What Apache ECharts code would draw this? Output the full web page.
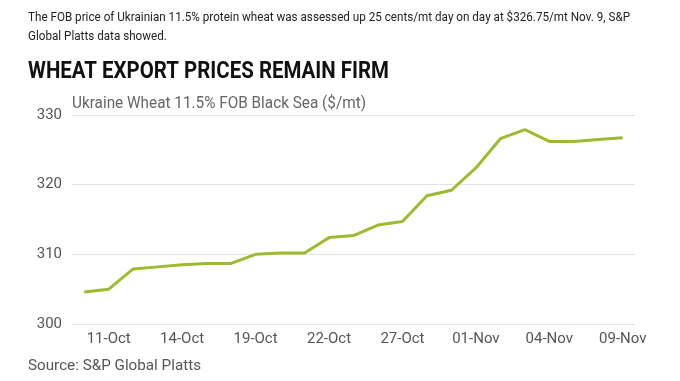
<!DOCTYPE html>
<html><head><meta charset="utf-8">
<script src="https://cdn.jsdelivr.net/npm/echarts@6/dist/echarts.min.js"></script>
<style>html,body{margin:0;padding:0;background:#fff}#c{width:680px;height:381px}</style>
</head><body><div id="c"></div>
<script>
const categories = ["10-Oct","11-Oct","12-Oct","13-Oct","14-Oct","17-Oct","18-Oct","19-Oct","20-Oct","21-Oct","22-Oct","25-Oct","26-Oct","27-Oct","28-Oct","31-Oct","01-Nov","02-Nov","03-Nov","04-Nov","07-Nov","08-Nov","09-Nov"];
const prices = [304.6,305.0,307.9,308.2,308.5,308.7,308.7,310.0,310.2,310.2,312.4,312.7,314.2,314.7,318.4,319.2,322.4,326.6,327.9,326.2,326.2,326.5,326.75];
const yTicks = [300,310,320,330];
const noteLine1 = 'The FOB price of Ukrainian 11.5% protein wheat was assessed up 25 cents/mt day on day at $326.75/mt Nov. 9, S&P';
const noteLine2 = 'Global Platts data showed.';
const headline = 'WHEAT EXPORT PRICES REMAIN FIRM';
const subtitle = 'Ukraine Wheat 11.5% FOB Black Sea ($/mt)';
const source = 'Source: S&P Global Platts';

const mctx = document.createElement('canvas').getContext('2d');
function fitText(text, font, x, y, targetW, fill){
  mctx.font = font;
  const w = mctx.measureText(text).width;
  return {type:'text', x:x, y:y, scaleX: targetW / w, silent:true,
    style:{text:text, font:font, fill:fill, textVerticalAlign:'middle', textAlign:'left'}};
}

const chart = echarts.init(document.getElementById('c'), null, {renderer:'canvas'});
const noteFont = '13px Roboto';
mctx.font = noteFont;
const noteScale = 602 / mctx.measureText(noteLine1).width;
chart.setOption({
  animation:false,
  backgroundColor:'#fff',
  graphic:[
    fitText(noteLine1, noteFont, 28, 18, 602, '#222'),
    {type:'text', x:28, y:37, scaleX:noteScale, silent:true,
     style:{text:noteLine2, font:noteFont, fill:'#222', textVerticalAlign:'middle'}},
    fitText(headline, 'bold 24px Roboto', 28, 72, 361, '#111'),
    fitText(subtitle, '16px Roboto', 72, 104, 294, '#666'),
    fitText(source, '15px Roboto', 28, 366, 173, '#555')
  ],
  grid:{left:72, right:45, top:115, bottom:57},
  xAxis:{type:'category', data:categories, boundaryGap:true,
    axisLine:{show:false}, axisTick:{show:false},
    axisLabel:{interval:(i)=>i%3===1, color:'#555', fontFamily:'Roboto', fontSize:15, margin:8}},
  yAxis:{type:'value', min:yTicks[0], max:yTicks[yTicks.length-1], interval:10,
    axisLine:{show:false}, axisTick:{show:false},
    axisLabel:{color:'#555', fontFamily:'Roboto', fontSize:15, margin:10},
    splitLine:{lineStyle:{color:'#e3e3e3', width:1}}},
  series:[{type:'line', data:prices, symbol:'none', lineStyle:{color:'#9cbb2e', width:3}, itemStyle:{color:'#9cbb2e'}}]
});
</script></body></html>
